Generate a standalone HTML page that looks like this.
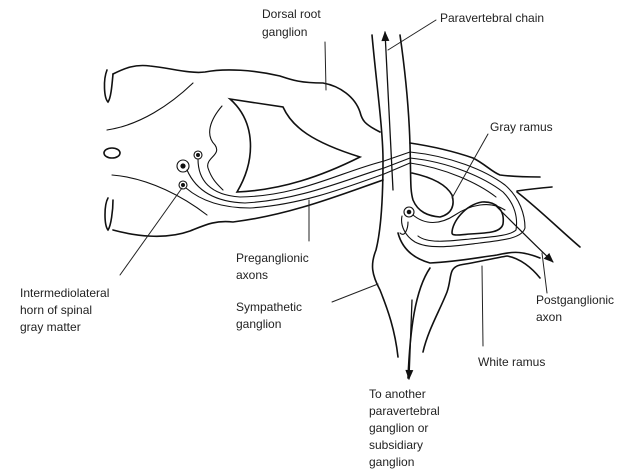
<!DOCTYPE html>
<html><head><meta charset="utf-8"><style>
html,body{margin:0;padding:0;background:#fff;}
svg{display:block}
text{font-family:"Liberation Sans",sans-serif;font-size:12px;fill:#222;}
</style></head><body>
<svg width="638" height="473" viewBox="0 0 638 473" xmlns="http://www.w3.org/2000/svg">
<defs>
<marker id="a2" viewBox="0 0 10 10" markerWidth="10" markerHeight="10" refX="9" refY="5" orient="auto" markerUnits="userSpaceOnUse"><path d="M0,1 L10,5 L0,9 Z" fill="#111"/></marker>
<marker id="ah" viewBox="0 0 10 8" markerWidth="11" markerHeight="8" refX="9" refY="4" orient="auto" markerUnits="userSpaceOnUse"><path d="M0,0 L10,4 L0,8 Z" fill="#111"/></marker>
</defs>
<g fill="none" stroke="#111" stroke-width="1.6" stroke-linecap="round">
<path d="M107,70 C103,80 104,98 108,102 C111,98 112,85 113,74"/>
<path d="M108,198 C104,205 104,225 108,230 C111,226 113,210 113,200"/>
<ellipse cx="112" cy="153" rx="8" ry="5"/>
<path d="M113,74 C125,68 135,64 150,66 C170,68 190,74 205,72 C225,68 255,70 280,76 C292,80 300,83 323,83 C340,86 355,97 360,112 C362,120 364,124 380,132"/>
<path d="M113,230 C135,236 165,240 190,231 C205,225 215,220 233,222 C290,215 340,195 383,180"/>
<path stroke-width="1.1" d="M107,130 C140,125 170,105 193,83"/>
<path stroke-width="1.1" d="M112,175 C150,178 185,198 207,215"/>
<path d="M230,99 L283,107 C292,127 312,142 360,157 C322,176 282,190 237,192 C256,160 256,122 230,99 Z"/>
<path stroke-width="1.1" d="M222,106 C210,120 205,135 215,145 C222,155 205,158 208,168 C212,180 218,185 223,190"/>
<circle cx="183" cy="166" r="6" stroke-width="1.1"/><circle cx="183" cy="166" r="1.8" fill="#111"/>
<circle cx="198" cy="155" r="4" stroke-width="1.1"/><circle cx="198" cy="155" r="1.2" fill="#111"/>
<circle cx="183" cy="185" r="4" stroke-width="1.1"/><circle cx="183" cy="185" r="1.2" fill="#111"/>
<path stroke-width="1.1" d="M198,159 C198,180 210,195 240,197 C300,196 340,172 384,161"/>
<path stroke-width="1.1" d="M187,170 C195,188 212,202 245,203 C300,200 345,180 384,168"/>
<path stroke-width="1.1" d="M186,188 C200,200 220,208 250,208 C300,205 345,188 384,174"/>
<path d="M372,35 C376,80 383,130 383,160 C383,200 381,230 376,250 C370,265 372,275 380,290 C388,310 395,330 398,357"/>
<path d="M400,35 C405,70 409,110 410,145 C411,180 410,190 413,200 C418,212 428,216 440,217 C452,214 455,205 452,195 C447,186 435,178 412,173"/>
<path stroke-width="1.3" marker-end="url(#ah)" d="M393,190 C390,130 387,80 385,32"/>
<path d="M410,143 C430,146 450,150 473,158 C485,164 492,172 500,175 C515,177 530,177 540,177"/>
<path d="M517,191 C530,189 540,188 552,187"/>
<path d="M517,192 C540,210 560,230 580,247"/>
<path d="M452,233 C452,222 465,205 482,202 C496,201 505,210 503,224 C501,232 490,233 470,234 C458,235 452,236 452,233 Z"/>
<path stroke-width="1.1" d="M410,152 C450,156 485,170 505,185 C520,198 525,215 525,228 C522,238 505,240 480,243 C455,246 430,250 415,242 C405,236 400,225 402,216"/>
<path stroke-width="1.1" d="M410,158 C450,162 485,178 503,192 C515,204 518,218 516,230 C510,236 490,237 470,239 C450,241 428,244 418,236"/>
<path stroke-width="1.1" d="M410,163 C445,168 478,183 496,197"/>
<path stroke-width="1.1" d="M384,161 L410,152 M384,168 L410,158 M384,174 L410,163"/>
<path stroke-width="1.1" d="M400,233 C405,238 408,228 408,222"/>
<path d="M398,233 C402,248 412,258 430,263 C455,262 475,258 497,255 C510,252 520,250 540,258"/>
<circle cx="409" cy="212" r="5" stroke-width="1.1"/><circle cx="409" cy="212" r="1.5" fill="#111"/>
<path stroke-width="1.1" d="M413,215 C425,225 440,225 455,215 C470,205 490,200 505,210"/>
<path stroke-width="1.2" marker-end="url(#a2)" d="M495,205 C515,225 535,245 553,262"/>
<path d="M430,268 C415,290 410,330 408,378"/>
<path stroke-width="1.3" marker-end="url(#ah)" d="M412,300 L409,379"/>
<path d="M423,352 C428,330 440,310 447,292 C452,278 448,268 460,265 C478,262 495,258 507,256 C520,258 532,268 540,278"/>
<g stroke-width="1" stroke="#222">
<line x1="325" y1="42" x2="326" y2="90"/>
<line x1="436" y1="20" x2="388" y2="50"/>
<line x1="488" y1="134" x2="452" y2="198"/>
<line x1="309" y1="200" x2="309" y2="241"/>
<line x1="120" y1="275" x2="182" y2="188"/>
<line x1="332" y1="302" x2="378" y2="284"/>
<line x1="547" y1="293" x2="542" y2="253"/>
<line x1="483" y1="346" x2="482" y2="266"/>
</g>
</g>
<text x="262" y="18">Dorsal root</text><text x="262" y="36">ganglion</text>
<text x="440" y="22">Paravertebral chain</text>
<text x="490" y="131">Gray ramus</text>
<text x="236" y="262">Preganglionic</text><text x="236" y="279">axons</text>
<text x="20" y="297">Intermediolateral</text><text x="20" y="314">horn of spinal</text><text x="20" y="331">gray matter</text>
<text x="236" y="311">Sympathetic</text><text x="236" y="328">ganglion</text>
<text x="536" y="304">Postganglionic</text><text x="536" y="321">axon</text>
<text x="478" y="366">White ramus</text>
<text x="369" y="398">To another</text><text x="369" y="415">paravertebral</text><text x="369" y="432">ganglion or</text><text x="369" y="449">subsidiary</text><text x="369" y="466">ganglion</text>
</svg>
</body></html>
